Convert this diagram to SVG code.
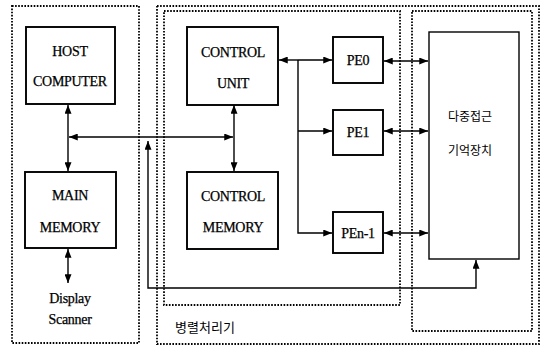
<svg xmlns="http://www.w3.org/2000/svg" width="547" height="347" viewBox="0 0 547 347">
<style>
.box{fill:#fff;stroke:#000;stroke-width:1.9}
.dot{fill:none;stroke:#000;stroke-width:1.8;stroke-dasharray:1.6 1.5}
.ln{fill:none;stroke:#000;stroke-width:1.4}
.t{font-family:"Liberation Serif","Times New Roman",serif;font-size:14px;fill:#000;stroke:#000;stroke-width:0.25;text-anchor:middle;letter-spacing:-0.3px}
.k{font-family:"Noto Sans CJK KR","Noto Sans CJK SC",sans-serif;font-size:12px;fill:#000;text-anchor:middle}
</style>
<defs>
<marker id="ah" viewBox="0 0 10 8" refX="10" refY="4" markerWidth="9" markerHeight="7" markerUnits="userSpaceOnUse" orient="auto-start-reverse">
<path d="M0,0 L10,4 L0,8 Z" fill="#000"/>
</marker>
</defs>
<rect width="547" height="347" fill="#fff"/>
<g id="frames">
<rect class="dot" x="12" y="6" width="127" height="337"/>
<rect class="dot" x="157" y="6" width="382" height="338"/>
<rect class="dot" x="164" y="11" width="236" height="294"/>
<rect class="dot" x="412" y="11" width="120" height="320"/>
<text class="k" x="205" y="332" style="font-size:13px">병렬처리기</text>
</g>
<g id="connectors">
<path class="ln" d="M68,105 V171" marker-start="url(#ah)" marker-end="url(#ah)"/>
<path class="ln" d="M69,137 H233" marker-start="url(#ah)" marker-end="url(#ah)"/>
<path class="ln" d="M234,105 V171" marker-start="url(#ah)" marker-end="url(#ah)"/>
<path class="ln" d="M68,249 V283" marker-start="url(#ah)" marker-end="url(#ah)"/>
<path class="ln" d="M279,60 H298" marker-start="url(#ah)"/>
<path class="ln" d="M298,60 H332" marker-end="url(#ah)"/>
<path class="ln" d="M298,60 V233 H332" marker-end="url(#ah)"/>
<path class="ln" d="M298,131 H332" marker-end="url(#ah)"/>
<path class="ln" d="M384,61 H428" marker-start="url(#ah)" marker-end="url(#ah)"/>
<path class="ln" d="M384,131 H428" marker-start="url(#ah)" marker-end="url(#ah)"/>
<path class="ln" d="M384,233 H428" marker-start="url(#ah)" marker-end="url(#ah)"/>
<path class="ln" d="M148,141 V288 H476 V260" marker-start="url(#ah)" marker-end="url(#ah)"/>
</g>
<g id="host">
<rect class="box" x="26" y="27" width="89" height="77"/>
<text class="t" x="70" y="56">HOST</text>
<text class="t" x="70" y="86">COMPUTER</text>
</g>
<g id="main">
<rect class="box" x="25" y="172" width="91" height="76"/>
<text class="t" x="70" y="200">MAIN</text>
<text class="t" x="70" y="232">MEMORY</text>
</g>
<g id="display">
<text class="t" x="70" y="303">Display</text>
<text class="t" x="70" y="324">Scanner</text>
</g>
<g id="cu">
<rect class="box" x="187" y="27" width="91" height="78"/>
<text class="t" x="233" y="57">CONTROL</text>
<text class="t" x="233" y="88">UNIT</text>
</g>
<g id="cm">
<rect class="box" x="187" y="172" width="91" height="77"/>
<text class="t" x="233" y="201">CONTROL</text>
<text class="t" x="233" y="232">MEMORY</text>
</g>
<g id="pe0">
<rect class="box" x="333" y="37" width="50" height="46"/>
<text class="t" x="358" y="65">PE0</text>
</g>
<g id="pe1">
<rect class="box" x="333" y="110" width="50" height="45"/>
<text class="t" x="358" y="137">PE1</text>
</g>
<g id="pen1">
<rect class="box" x="333" y="212" width="50" height="41"/>
<text class="t" x="358" y="238">PEn-1</text>
</g>
<g id="mem">
<rect class="box" x="429" y="32" width="90" height="227" style="stroke-width:1.4"/>
<text class="k" x="470" y="121">다중접근</text>
<text class="k" x="470" y="155">기억장치</text>
</g>
</svg>
